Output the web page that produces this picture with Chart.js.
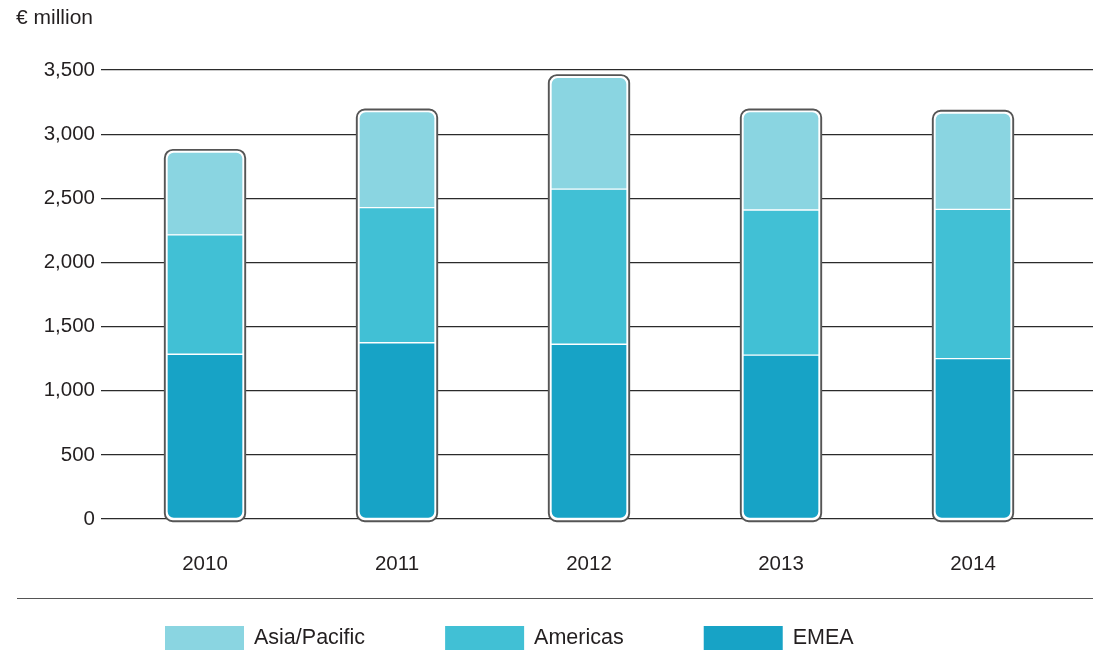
<!DOCTYPE html>
<html>
<head>
<meta charset="utf-8">
<script src="https://cdn.jsdelivr.net/npm/chart.js@4"></script>
<style>
html,body{margin:0;padding:0;background:#fff;}
#wrap{width:1102px;height:652px;position:relative;}
</style>
</head>
<body>
<div id="wrap"><canvas id="c" width="1102" height="652"></canvas></div>
<script>
const categories = ['2010', '2011', '2012', '2013', '2014'];
const emea = [1284, 1374, 1362, 1278, 1250];
const americas = [931, 1053, 1210, 1131, 1164];
const asiaPacific = [645, 748, 871, 766, 751];
const yTicks = [0, 500, 1000, 1500, 2000, 2500, 3000, 3500];
const unitLabel = '€ million';

const FONT = "'Liberation Sans', Arial, Helvetica, sans-serif";
const TEXT = '#231f20';
const toXY = arr => arr.map((v, i) => ({ x: i, y: v }));

const framePlugin = {
  id: 'frames',
  beforeDatasetsDraw(chart) {
    const ctx = chart.ctx;
    const base = chart.getDatasetMeta(0);
    const top = chart.getDatasetMeta(chart.data.datasets.length - 1);
    const y0 = chart.scales.y.getPixelForValue(0);
    ctx.save();
    base.data.forEach((el, i) => {
      const t = top.data[i].y;
      const w = el.width;
      ctx.beginPath();
      ctx.roundRect(el.x - w / 2 - 2.2, t - 2.2, w + 4.4, y0 - t + 4.4, 8);
      ctx.fillStyle = '#ffffff';
      ctx.fill();
      ctx.lineWidth = 1.9;
      ctx.strokeStyle = '#555555';
      ctx.stroke();
    });
    ctx.restore();
  }
};

const legendPlugin = {
  id: 'customLegend',
  afterDraw(chart) {
    const ctx = chart.ctx;
    ctx.save();
    ctx.beginPath();
    ctx.moveTo(17, 598.5);
    ctx.lineTo(1093, 598.5);
    ctx.lineWidth = 1.2;
    ctx.strokeStyle = '#555';
    ctx.stroke();
    ctx.font = '21.5px ' + FONT;
    ctx.textBaseline = 'middle';
    ctx.fillStyle = TEXT;
    let x = 165;
    const ds = chart.data.datasets.slice().reverse();
    ds.forEach(d => {
      ctx.fillStyle = d.backgroundColor;
      ctx.fillRect(x, 626, 79, 24);
      ctx.fillStyle = TEXT;
      ctx.textAlign = 'left';
      ctx.fillText(d.label, x + 89, 638);
      x += 89 + ctx.measureText(d.label).width + 80;
    });
    ctx.restore();
  }
};

new Chart(document.getElementById('c'), {
  type: 'bar',
  data: {
    datasets: [
      { label: 'EMEA', data: toXY(emea), backgroundColor: '#17a3c6',
        borderColor: '#ffffff', borderWidth: 1, borderSkipped: false,
        borderRadius: { topLeft: 0, topRight: 0, bottomLeft: 7, bottomRight: 7 } },
      { label: 'Americas', data: toXY(americas), backgroundColor: '#41c0d5',
        borderColor: '#ffffff', borderWidth: 1, borderSkipped: false, borderRadius: 0 },
      { label: 'Asia/Pacific', data: toXY(asiaPacific), backgroundColor: '#8ad5e1',
        borderColor: '#ffffff', borderWidth: 1, borderSkipped: false,
        borderRadius: { topLeft: 7, topRight: 7, bottomLeft: 0, bottomRight: 0 } }
    ]
  },
  options: {
    responsive: false,
    animation: false,
    events: [],
    barThickness: 76,
    layout: { padding: { left: 16, right: 9, top: 0, bottom: 76 } },
    plugins: {
      legend: { display: false },
      tooltip: { enabled: false },
      title: {
        display: true, text: unitLabel, align: 'start', color: TEXT,
        font: { family: FONT, size: 21, weight: 'normal' },
        padding: { top: 6, bottom: 38.8 }
      }
    },
    scales: {
      x: {
        type: 'linear', stacked: true, offset: false,
        min: -0.5417, max: 4.625,
        afterBuildTicks(scale) { scale.ticks = categories.map((_, i) => ({ value: i })); },
        afterFit(scale) { scale.height = 57; },
        ticks: {
          callback: v => categories[v] ?? '',
          color: TEXT, font: { family: FONT, size: 20.5 }, padding: 33, maxRotation: 0, autoSkip: false
        },
        grid: { display: false, drawTicks: false, offset: false },
        border: { display: false }
      },
      y: {
        stacked: true, min: 0, max: 3500,
        afterBuildTicks(scale) { scale.ticks = yTicks.map(v => ({ value: v })); },
        afterFit(scale) { scale.width = 85; },
        ticks: {
          color: TEXT, font: { family: FONT, size: 20.5 }, padding: 6,
          callback: v => v.toLocaleString('en-US')
        },
        grid: { color: '#2b2b2b', lineWidth: 1.2, drawTicks: false },
        border: { display: false }
      }
    }
  },
  plugins: [framePlugin, legendPlugin]
});
</script>
</body>
</html>
